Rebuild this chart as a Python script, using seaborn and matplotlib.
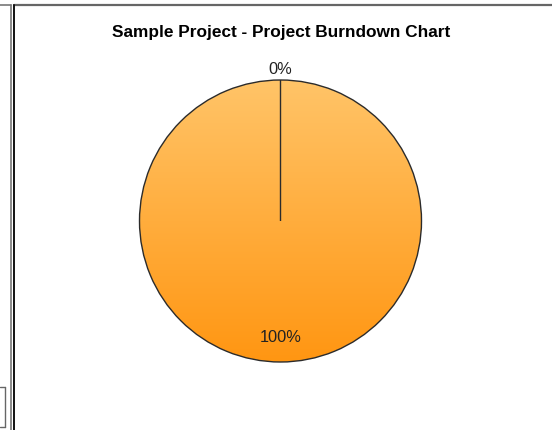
import numpy as np
import matplotlib
matplotlib.use("Agg")
import matplotlib.pyplot as plt
import seaborn as sns
from matplotlib.lines import Line2D
from matplotlib.patches import Circle
from matplotlib.colors import LinearSegmentedColormap

sns.set_theme(style="white")
plt.rcParams['font.family'] = ['Liberation Sans', 'DejaVu Sans']

title = "Sample Project - Project Burndown Chart"
categories = ["Remaining", "Completed"]
values = [0, 100]
pct_labels = ["0%", "100%"]

W, H = 552, 431
fig = plt.figure(figsize=(W / 100, H / 100), dpi=100)
fig.patch.set_facecolor("white")

cx, cy, r = 280.5, 222.0, 141.0
ax = fig.add_axes([0, 0, 1, 1])
ax.axis("off")

# gradient fill clipped to pie disk
cmap = LinearSegmentedColormap.from_list("org", ["#FF9612", "#FFC468"])
grad = np.linspace(0, 1, 256).reshape(-1, 1)
im = ax.imshow(grad, cmap=cmap, extent=[-1, 1, -1, 1], origin="lower",
               aspect="auto", zorder=1)
clip = Circle((0, 0), 1, transform=ax.transData)
im.set_clip_path(clip)

wedges, texts = ax.pie(values, startangle=90, counterclock=False, radius=1,
                       wedgeprops=dict(facecolor="none", edgecolor="#2b2b2b",
                                       linewidth=1.0),
                       labels=pct_labels, labeldistance=1.1,
                       textprops=dict(fontsize=11.8, color="#222222"))
for w in wedges:
    w.set_zorder(3)
ax.set_xlim(-cx / r, (W - cx) / r)
ax.set_ylim(-(H - cy) / r, cy / r)
ax.set_aspect("auto")

for w, t in zip(wedges, texts):
    ang = np.deg2rad((w.theta1 + w.theta2) / 2)
    d = 1.085 if (w.theta2 - w.theta1) < 1 else 0.82
    t.set_position((d * np.cos(ang), d * np.sin(ang)))
    t.set_ha("center")
    t.set_va("center")

fig.text(281 / W, 1 - 32 / H, title, ha="center", va="center",
         fontsize=12.4, fontweight="bold", color="black")

# frame lines
def fline(x0, y0, x1, y1, color, lw):
    fig.add_artist(Line2D([x0 / W, x1 / W], [1 - y0 / H, 1 - y1 / H],
                          color=color, lw=lw, transform=fig.transFigure))

fline(0, 5.5, 10.5, 5.5, "#777777", 1.2)
fline(10.5, 5.5, 10.5, H, "#777777", 1.2)
fline(13.5, 5.5, W, 5.5, "#666666", 1.6)
fline(13.5, 5.5, 13.5, H, "#111111", 1.4)
fline(0, 388, 5.5, 388, "#666666", 1.0)
fline(5.5, 388, 5.5, 428, "#666666", 1.0)
fline(0, 428, 5.5, 428, "#666666", 1.0)

fig.savefig("out.png", dpi=100)
